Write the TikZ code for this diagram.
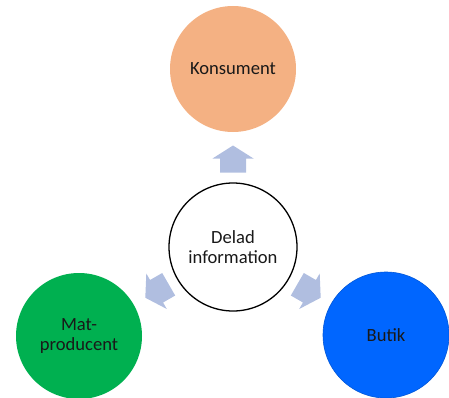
\documentclass[tikz,border=0pt]{standalone}
\usepackage{fontspec}
\setmainfont{Carlito}
\definecolor{konsC}{HTML}{F4B183}
\definecolor{matC}{HTML}{00B050}
\definecolor{butC}{HTML}{0066FF}
\definecolor{arrC}{HTML}{B0BEE0}
\tikzset{
  disc/.style={circle, minimum size=126pt, inner sep=0pt, align=center,
    font=\fontsize{18.6}{20}\selectfont, text=black!90},
  centerdisc/.style={disc, minimum size=128pt, draw=black, line width=1.3pt, fill=white},
  bigarrow/.style={fill=arrC, draw=none}
}
\newcommand{\infoarrow}[2]{%
  \begin{scope}[shift={#1}, rotate=#2]
    \fill[bigarrow] (-13.5,-13) -- (0.5,-13) -- (0.5,-20.5) -- (13.5,0)
      -- (0.5,20.5) -- (0.5,13) -- (-13.5,13) -- cycle;
  \end{scope}}
\begin{document}
\begin{tikzpicture}[x=1pt,y=1pt]
\useasboundingbox (0,0) rectangle (449,397);
\node[disc, fill=konsC] (kons) at (233,328) {Konsument};
\node[centerdisc] (delad) at (233,150) {Delad\\information};
\node[disc, fill=matC] (mat) at (79,61) {Mat-\\producent};
\node[disc, fill=butC, draw=butC!85!black, line width=0.6pt] (but) at (386,62) {Butik};
\infoarrow{(233,238)}{90}
\infoarrow{(157,106)}{210}
\infoarrow{(309,106)}{330}
\end{tikzpicture}
\end{document}
